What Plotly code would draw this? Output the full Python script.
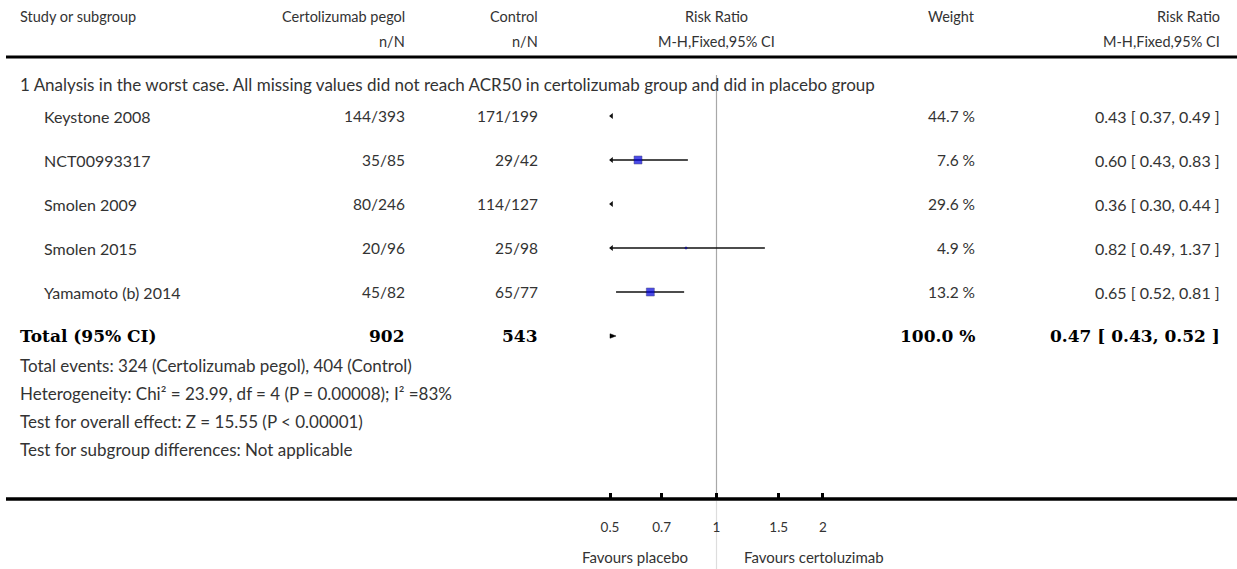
import math
import plotly.graph_objects as go

# ---------------- data ----------------
studies = ["Keystone 2008", "NCT00993317", "Smolen 2009", "Smolen 2015", "Yamamoto (b) 2014"]
cert_nN = ["144/393", "35/85", "80/246", "20/96", "45/82"]
ctrl_nN = ["171/199", "29/42", "114/127", "25/98", "65/77"]
rr = [0.43, 0.60, 0.36, 0.82, 0.65]
lo = [0.37, 0.43, 0.30, 0.49, 0.52]
hi = [0.49, 0.83, 0.44, 1.37, 0.81]
weight = [44.7, 7.6, 29.6, 4.9, 13.2]

total_cert = 902
total_ctrl = 543
total_rr, total_lo, total_hi = 0.47, 0.43, 0.52
total_weight = 100.0

subgroup_title = "1 Analysis in the worst case. All missing values did not reach ACR50 in certolizumab group and did in placebo group"
footer_lines = [
    "Total events: 324 (Certolizumab pegol), 404 (Control)",
    "Heterogeneity: Chi² = 23.99, df = 4 (P = 0.00008); I² =83%",
    "Test for overall effect: Z = 15.55 (P < 0.00001)",
    "Test for subgroup differences: Not applicable",
]
tick_vals = [0.5, 0.7, 1, 1.5, 2]
tick_text = ["0.5", "0.7", "1", "1.5", "2"]
x_min, x_max = 0.5, 2.0

# ---------------- layout helpers ----------------
W, H = 1237, 569
ROW0, ROWH = 116, 44          # pixel y of first study row, row spacing
X_ONE, PX_PER_DEC = 716.5, 353.7   # pixel of RR=1, pixels per decade


def py(pix):                  # pixel y -> row units on the y axis
    return (pix - ROW0) / ROWH


def px(pix):                  # pixel x -> paper x
    return pix / W


r_lo, r_hi = math.log10(0.4), math.log10(2.5)
dom = [px(X_ONE + PX_PER_DEC * r_lo), px(X_ONE + PX_PER_DEC * r_hi)]

FONT = "Lato, 'Open Sans', sans-serif"
TXT = "#333333"
SERIF = "'DejaVu Serif', 'Liberation Serif', serif"
sq_sizes = [0, 8, 0, 2, 8]
HEAD = 14.5
NAME = 16
NUM = 15.5
NOTE = 17
TOT = 17

fig = go.Figure()

# CI lines (clipped at the axis minimum)
for i in range(len(studies)):
    if hi[i] > x_min:
        fig.add_trace(go.Scatter(x=[max(lo[i], x_min), hi[i]], y=[i, i], mode="lines",
                                 line=dict(color="#111111", width=1.3),
                                 hoverinfo="skip", showlegend=False))
# left arrows where the CI falls below the axis minimum
arr_y = [i for i in range(len(studies)) if lo[i] < x_min]
fig.add_trace(go.Scatter(x=[x_min * 1.01] * len(arr_y), y=arr_y, mode="markers",
                         marker=dict(symbol="triangle-left", size=5, color="#111111"),
                         hoverinfo="skip", showlegend=False))
# squares
vis = [i for i in range(len(studies)) if x_min <= rr[i] <= x_max]
fig.add_trace(go.Scatter(x=[rr[i] for i in vis], y=vis, mode="markers",
                         marker=dict(symbol="square", size=[sq_sizes[i] for i in vis],
                                     color="#0000dd", line=dict(color="#000050", width=0.5)),
                         hoverinfo="skip", showlegend=False))
# total diamond (clipped at the axis minimum)
ty = len(studies)
dh = 0.13
frac = (math.log(total_hi) - math.log(x_min)) / (math.log(total_hi) - math.log(total_rr))
fig.add_trace(go.Scatter(x=[x_min, total_hi, x_min, x_min],
                         y=[ty - dh * frac, ty, ty + dh * frac, ty - dh * frac],
                         mode="lines", fill="toself",
                         fillcolor="#000000", line=dict(color="#000000", width=0.5),
                         hoverinfo="skip", showlegend=False))

ann = []


def T(x, y, text, anchor="left", size=NUM, bold=False, serif=False, color=TXT):
    ann.append(dict(x=px(x), y=y, xref="paper", yref="y",
                    text=("<b>%s</b>" % text) if bold else text,
                    showarrow=False, xanchor=anchor, yanchor="middle",
                    font=dict(family=SERIF if serif else FONT, size=size, color=color)))


L0, L1 = 18, 42          # left text columns
C1, C2, C4, C5 = 407, 540, 977, 1222   # right-aligned columns
CM = 716                # centre of the plot column

# headers
T(L0, py(16), "Study or subgroup", size=HEAD)
T(C1, py(16), "Certolizumab pegol", "right", size=HEAD)
T(C2, py(16), "Control", "right", size=HEAD)
T(CM, py(16), "Risk Ratio", "center", size=HEAD)
T(C4, py(16), "Weight", "right", size=HEAD)
T(C5, py(16), "Risk Ratio", "right", size=HEAD)
T(C1, py(41), "n/N", "right", size=HEAD)
T(C2, py(41), "n/N", "right", size=HEAD)
T(CM, py(41), "M-H,Fixed,95% CI", "center", size=HEAD)
T(C5, py(41), "M-H,Fixed,95% CI", "right", size=HEAD)
T(L0, py(84), subgroup_title, size=NOTE)

for i, s in enumerate(studies):
    T(L1, i, s, size=NAME)
    T(C1, i, cert_nN[i], "right")
    T(C2, i, ctrl_nN[i], "right")
    T(C4, i, "%.1f %%" % weight[i], "right")
    T(C5, i, "%.2f [ %.2f, %.2f ]" % (rr[i], lo[i], hi[i]), "right", size=NAME)

BLK = "#000000"
T(L0, ty, "Total (95% CI)", bold=True, serif=True, size=TOT, color=BLK)
T(C1, ty, str(total_cert), "right", bold=True, serif=True, size=TOT, color=BLK)
T(C2, ty, str(total_ctrl), "right", bold=True, serif=True, size=TOT, color=BLK)
T(C4, ty, "%.1f %%" % total_weight, "right", bold=True, serif=True, size=TOT, color=BLK)
T(C5, ty, "%.2f [ %.2f, %.2f ]" % (total_rr, total_lo, total_hi), "right",
  bold=True, serif=True, size=TOT, color=BLK)

for k, line in enumerate(footer_lines):
    T(L0, py(365 + 28 * k), line, size=NOTE)

T(690, py(557), "Favours placebo", "right", size=15)
T(742, py(557), "Favours certoluzimab", "left", size=15)

shapes = [
    dict(type="line", xref="paper", yref="y", x0=px(6), x1=1, y0=py(57), y1=py(57),
         line=dict(color="#000000", width=3)),
    dict(type="line", xref="paper", yref="y", x0=px(6), x1=1, y0=py(499), y1=py(499),
         line=dict(color="#000000", width=3.5)),
    dict(type="line", xref="x", yref="y", x0=1, x1=1, y0=py(75), y1=py(497),
         line=dict(color="#a8a8a8", width=1.2), layer="below"),
    dict(type="line", xref="x", yref="y", x0=1, x1=1, y0=py(501), y1=py(569),
         line=dict(color="#dddddd", width=1.2), layer="below"),
]

fig.update_layout(
    width=W, height=H, margin=dict(l=0, r=0, t=0, b=0),
    paper_bgcolor="white", plot_bgcolor="white",
    annotations=ann, shapes=shapes,
    xaxis=dict(type="log", range=[r_lo, r_hi], domain=dom,
               anchor="free", position=1 - 499 / H, showline=False, showgrid=False,
               zeroline=False, tickvals=tick_vals, ticktext=tick_text,
               ticks="inside", ticklen=6, tickwidth=3, tickcolor="#000000",
               ticklabelstandoff=18, tickfont=dict(family=FONT, size=13.5, color=TXT)),
    yaxis=dict(range=[py(H), py(0)], domain=[0, 1], visible=False, showgrid=False,
               zeroline=False),
    font=dict(family=FONT, color=TXT),
)

fig.write_html("out.html", config={"displayModeBar": False},
               post_script="document.body.style.margin='0';document.body.style.overflow='hidden';")
